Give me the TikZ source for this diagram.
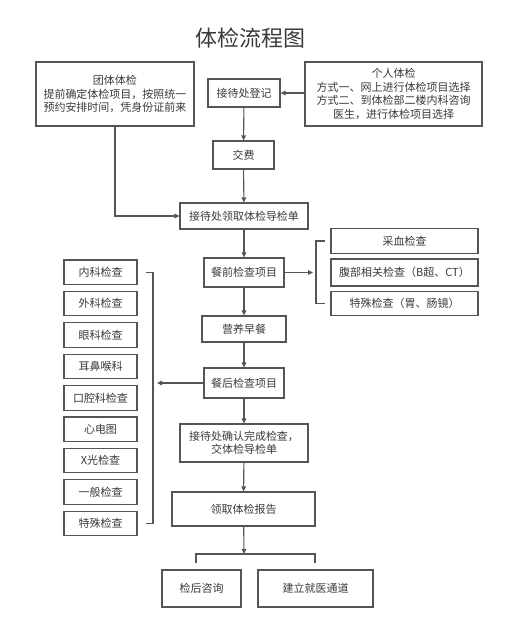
\documentclass[tikz,border=0pt]{standalone}
\usepackage{fontspec}
\setmainfont{Noto Sans CJK SC}
\usetikzlibrary{arrows.meta}
\definecolor{linegray}{HTML}{555555}
\definecolor{textgray}{HTML}{3A3A3A}

\begin{document}
\begin{tikzpicture}[x=1pt, y=-1pt,
        flowbox/.style={draw=linegray, line width=1.1pt, fill=white,
                        font=\fontsize{11}{13.5}\selectfont, text=textgray,
                        align=center, inner sep=0pt},
        itembox/.style={flowbox, minimum width=73pt, minimum height=24.5pt},
        sidebox/.style={flowbox, minimum width=147pt, minimum height=25pt},
        arr/.style={draw=linegray, line width=1.1pt, -{Triangle[length=5pt, width=4.5pt]}},
        link/.style={draw=linegray, line width=1.1pt}
    ]
        \useasboundingbox (0,0) rectangle (518,633);
        \node[font=\fontsize{22}{26}\selectfont, text=textgray] (title) at (250, 38) {体检流程图};

        % top part
        \node[flowbox, minimum width=158pt, minimum height=64pt] (tuan) at (115, 94)
            {团体体检\\提前确定体检项目，按照统一\\预约安排时间，凭身份证前来};
        \node[flowbox, minimum width=72pt, minimum height=28pt] (dengji) at (244, 93) {接待处登记};
        \node[flowbox, minimum width=177pt, minimum height=64pt] (geren) at (393.5, 94)
            {个人体检\\方式一、网上进行体检项目选择\\方式二、到体检部二楼内科咨询\\医生，进行体检项目选择};
        \node[flowbox, minimum width=61pt, minimum height=28pt] (jiaofei) at (243.5, 155) {交费};
        \node[flowbox, minimum width=128pt, minimum height=26pt] (lingqu) at (244, 216) {接待处领取体检导检单};

        % main column
        \node[flowbox, minimum width=80pt, minimum height=29pt] (canqian) at (244, 272.5) {餐前检查项目};
        \node[flowbox, minimum width=84pt, minimum height=26pt] (zaocan) at (244, 329) {营养早餐};
        \node[flowbox, minimum width=80pt, minimum height=30pt] (canhou) at (244, 383) {餐后检查项目};
        \node[flowbox, minimum width=128pt, minimum height=38pt] (queren) at (244, 443)
            {接待处确认完成检查，\\交体检导检单};
        \node[flowbox, minimum width=143pt, minimum height=34pt] (baogao) at (243.5, 509) {领取体检报告};
        \node[flowbox, minimum width=79pt, minimum height=37pt] (zixun) at (201.5, 588.5) {检后咨询};
        \node[flowbox, minimum width=115pt, minimum height=37pt] (tongdao) at (315.5, 588.5) {建立就医通道};

        % before-meal items
        \node[sidebox] (caixue) at (404.5, 241) {采血检查};
        \node[sidebox, minimum height=27pt] (fubu) at (404.5, 272.5) {腹部相关检查（B超、CT）};
        \node[sidebox, minimum height=24pt] (teshu) at (404.5, 303.5) {特殊检查（胃、肠镜）};

        % after-meal items
        \foreach \name/\txt [count=\i from 0] in {neike/内科检查, waike/外科检查, yanke/眼科检查,
                erbi/耳鼻喉科, kouqiang/口腔科检查, xindian/心电图, xguang/X光检查,
                yiban/一般检查, teshuL/特殊检查}
            \node[itembox] (\name) at (100.5, 272.2+31.4*\i) {\txt};

        \coordinate (rbar) at (316, 272.5);
        \coordinate (lbar) at (153, 383);
        \coordinate (split) at (244, 554);
        \coordinate (legL) at (196, 563);
        \coordinate (legR) at (315, 563);

        \draw[arr] (geren.west |- dengji) -- (dengji.east);
        \draw[arr] (dengji) -- (jiaofei);
        \draw[arr] (jiaofei) -- (lingqu);
        \draw[arr] (tuan.south) |- (lingqu.west);
        \draw[arr] (lingqu) -- (canqian);
        \draw[arr] (canqian) -- (zaocan);
        \draw[arr] (zaocan) -- (canhou);
        \draw[arr] (canhou) -- (queren);
        \draw[arr] (queren) -- (baogao);
        \draw[arr] (baogao) -- (split);

        % brackets
        \draw[arr] (canqian.east) -- ([xshift=-3pt]rbar);
        \draw[link] ([xshift=9pt]rbar |- caixue.west) -| (rbar) |- ([xshift=9pt]rbar |- teshu.west);
        \draw[arr] (canhou.west) -- ([xshift=4pt]lbar);
        \draw[link] ([xshift=-7pt]lbar |- neike.east) -| (lbar) |- ([xshift=-7pt]lbar |- teshuL.east);
        \draw[link] (legL) |- (split) -| (legR);
    \end{tikzpicture}
\end{document}
